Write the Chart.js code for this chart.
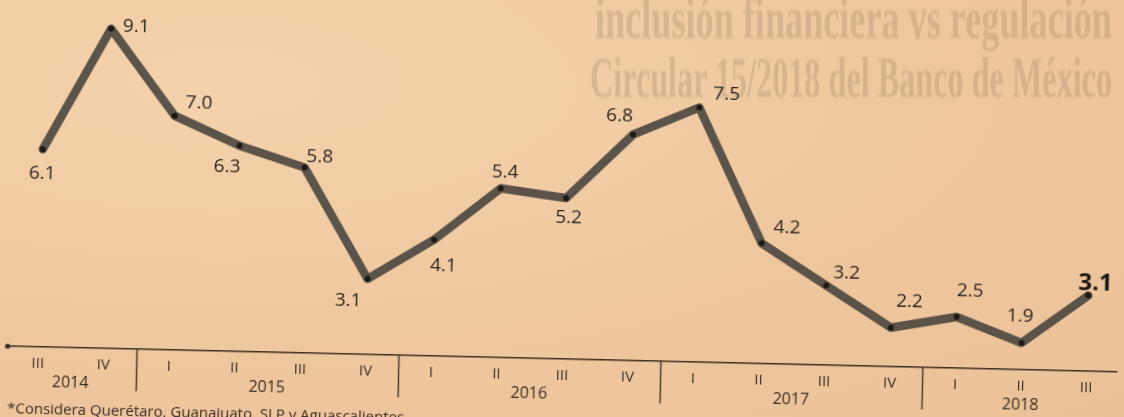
<!DOCTYPE html>
<html>
<head>
<meta charset="utf-8">
<script src="https://cdn.jsdelivr.net/npm/chart.js@4.4.1/dist/chart.umd.min.js"></script>
<style>
  html, body { margin:0; padding:0; width:1124px; height:417px; overflow:hidden;
    background: radial-gradient(ellipse at 20% 20%, #f4d2ac 0%, #efc79e 55%, #ebc198 100%); }
  .ghost { position:absolute; white-space:nowrap; font-family:"Liberation Serif", serif; font-weight:700;
    color: rgba(95,80,62,0.17); transform-origin: 0 0; line-height:1; filter: blur(1.2px); }
  #wrap { position:absolute; left:0; top:0; width:1124px; height:440px;
    transform-origin: 562px 208px; transform: rotate(1.33deg); }
  #c { position:absolute; left:0; top:0; }
  #note { position:absolute; left:12px; top:410px; font-family:"Open Sans", sans-serif; font-size:15px;
    color:#3a2e24; white-space:nowrap; }
</style>
</head>
<body>
<div class="ghost" id="g1" style="font-size:60px; left:595px; top:-12px;">inclusión financiera vs regulación</div>
<div class="ghost" id="g2" style="font-size:56px; left:590px; top:50px;">Circular 15/2018 del Banco de México</div>
<div id="wrap">
  <canvas id="c" width="1124" height="440"></canvas>
  <div id="note">*Considera Querétaro, Guanajuato, SLP y Aguascalientes</div>
</div>
<script>
// ---- data ----
const quarters = ['III','IV','I','II','III','IV','I','II','III','IV','I','II','III','IV','I','II','III'];
const values = [6.1, 9.1, 7.0, 6.3, 5.8, 3.1, 4.1, 5.4, 5.2, 6.8, 7.5, 4.2, 3.2, 2.2, 2.5, 1.9, 3.1];
const years = ['2014','2015','2016','2017','2018'];
const quartersPerYear = [2, 4, 4, 4, 3];
const valueLabels = values.map(v => v.toFixed(1));
// label placement relative to each point (layout, not data)
const labelOffsets = [[0,24],[25,-3],[24,-13],[-12,21],[15,-11],[-19,22],[10,26],[4,-16],[3,20],[-14,-18],[27,-14],[25,-16],[20,-13],[18,-26],[13,-26],[-2,-27],[7,-12]];

// fit ghost headline widths
function fitGhost(id, width) {
  const el = document.getElementById(id);
  const w = el.getBoundingClientRect().width;
  el.style.transform = 'scaleX(' + (width / w) + ')';
}
fitGhost('g1', 517);
fitGhost('g2', 522);

const textColor = '#2e2620';

const decor = {
  id: 'decor',
  afterDatasetsDraw(chart) {
    const ctx = chart.ctx;
    const meta = chart.getDatasetMeta(0);
    ctx.save();
    ctx.textAlign = 'center';
    ctx.textBaseline = 'middle';
    meta.data.forEach((pt, i) => {
      const last = i === meta.data.length - 1;
      ctx.font = last ? '700 24px "Open Sans"' : '400 19px "Open Sans"';
      ctx.fillStyle = last ? '#1c1714' : textColor;
      ctx.fillText(valueLabels[i], pt.x + labelOffsets[i][0], pt.y + labelOffsets[i][1]);
    });
    ctx.restore();
  },
  afterDraw(chart) {
    const ctx = chart.ctx;
    const xs = chart.scales.x;
    const bottom = chart.chartArea.bottom;
    ctx.save();
    // axis end dot
    ctx.fillStyle = '#3b2f25';
    ctx.beginPath();
    ctx.arc(chart.chartArea.left, bottom, 2.6, 0, Math.PI * 2);
    ctx.fill();
    // years and separators
    ctx.font = '400 16px "Open Sans"';
    ctx.fillStyle = '#3a2e24';
    ctx.textAlign = 'center';
    ctx.textBaseline = 'middle';
    ctx.strokeStyle = '#4a3b2e';
    ctx.lineWidth = 1.5;
    let start = 0;
    years.forEach((y, k) => {
      const end = start + quartersPerYear[k] - 1;
      const cx = (xs.getPixelForValue(start) + xs.getPixelForValue(end)) / 2;
      ctx.fillText(y, cx, 394);
      if (k < years.length - 1) {
        const sx = Math.round(xs.getPixelForValue(end + 0.5)) + 0.5;
        ctx.beginPath();
        ctx.moveTo(sx, bottom);
        ctx.lineTo(sx, 401);
        ctx.stroke();
      }
      start = end + 1;
    });
    ctx.restore();
  }
};

new Chart(document.getElementById('c'), {
  type: 'line',
  data: {
    datasets: [{
      data: values.map((v, i) => ({ x: i, y: v })),
      borderColor: 'rgba(80,73,66,0.93)',
      borderWidth: 8.5,
      borderCapStyle: 'round',
      borderJoinStyle: 'round',
      pointRadius: 3,
      pointBackgroundColor: '#1d1915',
      pointBorderWidth: 0,
      tension: 0
    }]
  },
  options: {
    responsive: false,
    animation: false,
    events: [],
    layout: { padding: { left: 11, right: 0, top: 19, bottom: 0 } },
    plugins: { legend: { display: false }, tooltip: { enabled: false } },
    scales: {
      x: {
        type: 'linear',
        min: -0.467,
        max: 16.456,
        afterBuildTicks: s => { s.ticks = quarters.map((q, i) => ({ value: i })); },
        afterFit: s => { s.height = 81; },
        ticks: {
          callback: v => quarters[v],
          autoSkip: false,
          maxRotation: 0,
          minRotation: 0,
          padding: 8,
          color: '#3a3028',
          font: { family: 'Open Sans', size: 15 }
        },
        grid: { display: false, drawTicks: false },
        border: { display: true, color: '#3b2f25', width: 1.6 }
      },
      y: { display: false, min: 1.24, max: 9.6 }
    }
  },
  plugins: [decor]
});
</script>
</body>
</html>
